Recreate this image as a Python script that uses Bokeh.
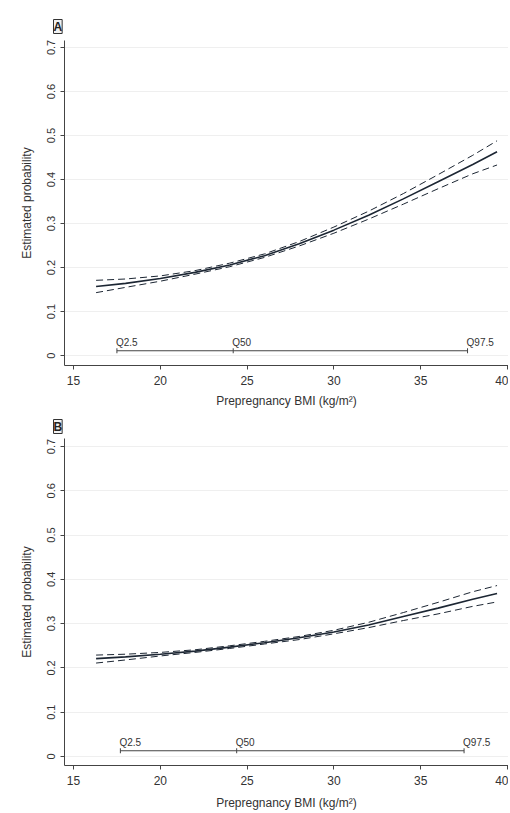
from bokeh.plotting import figure
from bokeh.layouts import column
from bokeh.models import Range1d, FixedTicker
from bokeh.core.properties import value
from bokeh.embed import file_html
from bokeh.resources import INLINE

# ---------------- data ----------------
bmi = [16.3, 18, 20, 22, 24, 26, 28, 30, 32, 34, 36, 38, 39.4]

a_est = [0.157, 0.164, 0.175, 0.189, 0.206, 0.227, 0.254, 0.285, 0.319, 0.356, 0.395, 0.434, 0.463]
a_upper = [0.171, 0.174, 0.181, 0.193, 0.210, 0.231, 0.259, 0.292, 0.328, 0.368, 0.411, 0.455, 0.488]
a_lower = [0.143, 0.155, 0.169, 0.185, 0.202, 0.223, 0.249, 0.278, 0.310, 0.344, 0.379, 0.413, 0.433]

b_est = [0.221, 0.225, 0.231, 0.238, 0.247, 0.257, 0.268, 0.281, 0.297, 0.316, 0.335, 0.355, 0.368]
b_upper = [0.229, 0.231, 0.235, 0.241, 0.250, 0.260, 0.271, 0.285, 0.303, 0.325, 0.348, 0.372, 0.386]
b_lower = [0.211, 0.218, 0.227, 0.235, 0.244, 0.254, 0.264, 0.277, 0.291, 0.307, 0.322, 0.339, 0.349]

quant_labels = ["Q2.5", "Q50", "Q97.5"]
a_quant = [17.5, 24.2, 37.7]
b_quant = [17.7, 24.4, 37.5]
a_quant_level = 0.011
b_quant_level = 0.013

x_ticks = [15, 20, 25, 30, 35, 40]
y_ticks = [0, 0.1, 0.2, 0.3, 0.4, 0.5, 0.6, 0.7]

x_title = "Prepregnancy BMI (kg/m\u00b2)"
y_title = "Estimated probability"

FONT = "Liberation Sans"
LINE = "#1c2633"
AXIS = "#444444"
TEXT = "#333333"


def panel(letter, est, up, lo, quant, qlevel, height, btop, bbottom, ymin, ymax, xstand, tstand):
    p = figure(width=508, height=height, output_backend="svg", toolbar_location=None,
               x_range=Range1d(14.48, 40.06), y_range=Range1d(ymin, ymax),
               min_border_left=64, min_border_right=0,
               min_border_top=btop, min_border_bottom=bbottom)
    p.outline_line_color = None
    p.xgrid.grid_line_color = None
    p.ygrid.grid_line_color = "#efefef"
    p.ygrid.grid_line_width = 1

    for ax in (p.xaxis[0], p.yaxis[0]):
        ax.axis_line_color = AXIS
        ax.major_tick_line_color = AXIS
        ax.minor_tick_line_color = None
        ax.major_tick_out = 4
        ax.major_tick_in = 0
        ax.major_label_text_font = FONT
        ax.major_label_text_color = TEXT
        ax.axis_label_text_font = FONT
        ax.axis_label_text_color = TEXT
        ax.axis_label_text_font_style = "normal"

    p.xaxis.ticker = FixedTicker(ticks=x_ticks)
    p.xaxis.major_label_text_font_size = "12px"
    p.xaxis.major_label_standoff = 6
    p.xaxis.axis_label = x_title
    p.xaxis.axis_label_text_font_size = "12px"
    p.xaxis.axis_label_standoff = xstand

    p.yaxis.ticker = FixedTicker(ticks=y_ticks)
    p.yaxis.major_label_overrides = {0: "0"}
    p.yaxis.major_label_orientation = "vertical"
    p.yaxis.major_label_text_font_size = "11px"
    p.yaxis.major_label_standoff = 5
    p.yaxis.axis_label = y_title
    p.yaxis.axis_label_text_font_size = "12px"
    p.yaxis.axis_label_standoff = 11

    # panel letter as a boxed title
    p.title.text = letter
    p.title.align = "left"
    p.title.offset = -11
    p.title.standoff = tstand
    p.title.text_font = FONT
    p.title.text_font_size = "12px"
    p.title.text_font_style = "bold"
    p.title.text_color = "#222222"
    p.title.border_line_color = "#333333"
    p.title.border_line_width = 1
    p.title.background_fill_color = "#f2f2f2"

    # estimate and confidence limits
    p.line(bmi, up, line_color=LINE, line_width=1, line_dash="7 4")
    p.line(bmi, lo, line_color=LINE, line_width=1, line_dash="7 4")
    p.line(bmi, est, line_color=LINE, line_width=1.6)

    # quantile bar
    qy = [qlevel] * len(quant)
    p.line(quant, qy, line_color=AXIS, line_width=1)
    p.scatter(quant, qy, marker="dash", angle=1.5708, size=5, line_color=AXIS, line_width=1)
    p.text(quant, qy, text=quant_labels, text_font=value(FONT), text_font_size="10px",
           text_color=TEXT, text_align="left", text_baseline="bottom", x_offset=-1, y_offset=-3)
    return p


pa = panel("A", a_est, a_upper, a_lower, a_quant, a_quant_level, 410, 40, 42, -0.0225, 0.7158, 6, 14)
pb = panel("B", b_est, b_upper, b_lower, b_quant, b_quant_level, 402, 28, 46, -0.0203, 0.718, 8, 10)

layout = column(pa, pb, spacing=0)
open("out.html", "w").write(file_html(layout, INLINE))
